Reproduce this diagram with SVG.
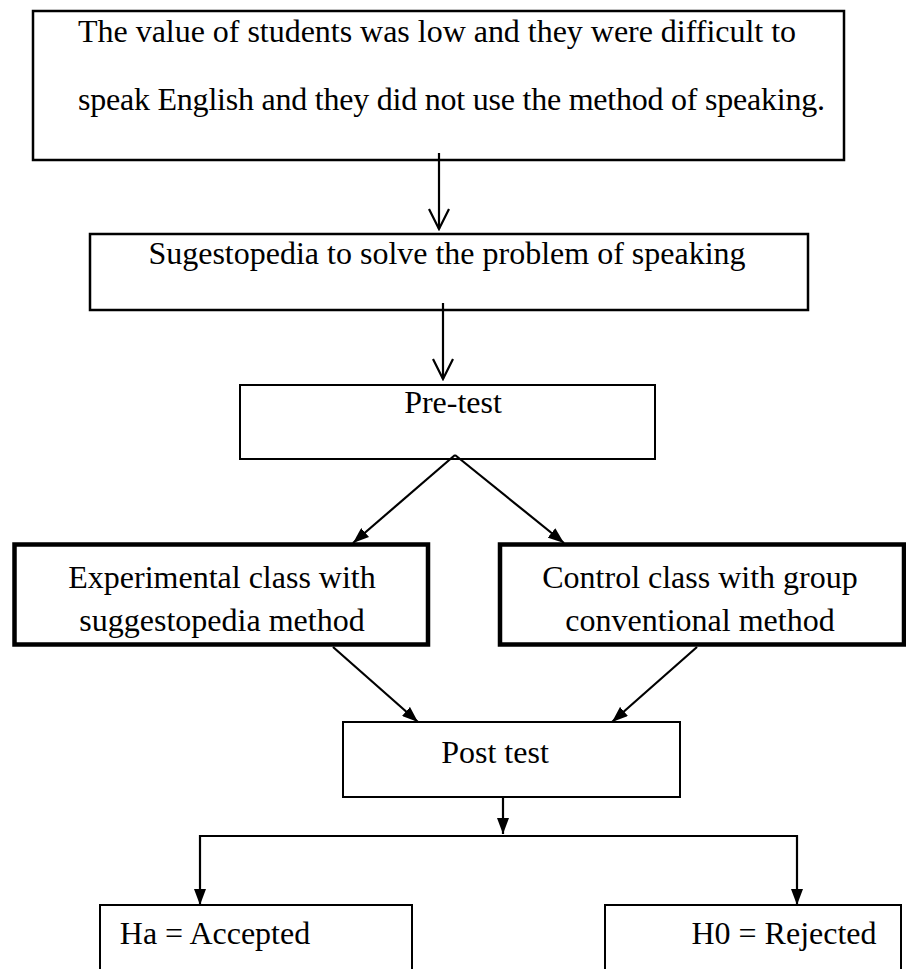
<svg xmlns="http://www.w3.org/2000/svg" width="906" height="969" viewBox="0 0 906 969">
<defs>
<marker id="open" viewBox="0 0 24 22" refX="22" refY="11" markerWidth="24" markerHeight="22" markerUnits="userSpaceOnUse" orient="auto">
<path d="M2,1 L22,11 L2,21" fill="none" stroke="#000" stroke-width="2.2"/>
</marker>
<marker id="fill" viewBox="0 0 16 12" refX="16" refY="6" markerWidth="16" markerHeight="12" markerUnits="userSpaceOnUse" orient="auto">
<path d="M0,0 L16,6 L0,12 Z" fill="#000"/>
</marker>
</defs>
<style>
.box{fill:#fff;stroke:#000;stroke-width:2.5}
.thick{fill:#fff;stroke:#000;stroke-width:4.5}
.thin{fill:#fff;stroke:#000;stroke-width:2}
text{font-family:"Liberation Serif","Times New Roman",serif;font-size:32px;fill:#000;text-anchor:middle}
.l{text-anchor:start}
.c{fill:none;stroke:#000;stroke-width:2.2}
</style>
<rect width="906" height="969" fill="#fff"/>
<g id="problem">
<rect class="box" x="33" y="11" width="811" height="149"/>
<text class="l" x="78" y="42" textLength="718" lengthAdjust="spacing">The value of students was low and they were difficult to</text>
<text class="l" x="78" y="110" textLength="747" lengthAdjust="spacing">speak English and they did not use the method of speaking.</text>
</g>
<g id="sugestopedia">
<rect class="box" x="90" y="234" width="718" height="76"/>
<text x="447" y="264">Sugestopedia to solve the problem of speaking</text>
</g>
<g id="pretest">
<rect class="thin" x="240" y="385" width="415" height="74"/>
<text x="453" y="413">Pre-test</text>
</g>
<g id="experimental">
<rect class="thick" x="14.5" y="544.5" width="413.5" height="100"/>
<text x="222" y="588">Experimental class with</text>
<text x="222" y="631">suggestopedia method</text>
</g>
<g id="control">
<rect class="thick" x="500" y="544.5" width="404" height="100"/>
<text x="700" y="588">Control class with group</text>
<text x="700" y="631">conventional method</text>
</g>
<g id="posttest">
<rect class="thin" x="343" y="722" width="337" height="75"/>
<text x="495" y="763">Post test</text>
</g>
<g id="accepted">
<rect class="thin" x="100" y="905" width="312" height="80"/>
<text x="215" y="944">Ha = Accepted</text>
</g>
<g id="rejected">
<rect class="thin" x="605" y="905" width="296" height="80"/>
<text x="784" y="944">H0 = Rejected</text>
</g>
<g id="connectors">
<line class="c" x1="439" y1="153" x2="439" y2="229" marker-end="url(#open)"/>
<line class="c" x1="443" y1="303" x2="443" y2="379" marker-end="url(#open)"/>
<line class="c" x1="455" y1="455" x2="353" y2="543" marker-end="url(#fill)"/>
<line class="c" x1="455" y1="455" x2="564" y2="543" marker-end="url(#fill)"/>
<line class="c" x1="333" y1="647" x2="418" y2="722" marker-end="url(#fill)"/>
<line class="c" x1="697" y1="647" x2="612" y2="722" marker-end="url(#fill)"/>
<line class="c" x1="503" y1="797" x2="503" y2="834" marker-end="url(#fill)"/>
<line class="c" x1="200" y1="836" x2="797" y2="836"/>
<line class="c" x1="200" y1="835" x2="200" y2="905" marker-end="url(#fill)"/>
<line class="c" x1="797" y1="835" x2="797" y2="905" marker-end="url(#fill)"/>
</g>
</svg>
